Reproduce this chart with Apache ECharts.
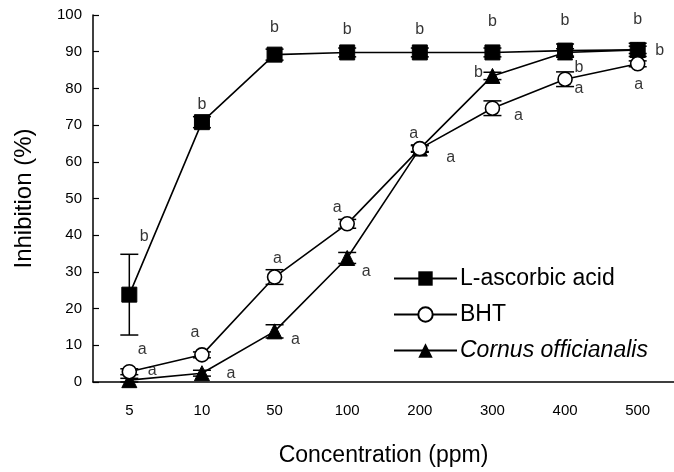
<!DOCTYPE html>
<html><head><meta charset="utf-8">
<script src="https://cdn.jsdelivr.net/npm/echarts@6/dist/echarts.min.js"></script>
<style>html,body{margin:0;padding:0;background:#fff}#c{width:674px;height:472px}</style>
</head><body><div id="c"></div>
<script>
const categories = ['5','10','50','100','200','300','400','500'];
const yTicks = [0,10,20,30,40,50,60,70,80,90,100];
const ascorbic = [23.8, 70.8, 89.2, 89.8, 89.8, 89.8, 90.3, 90.5];
const ascorbicErr = [11, 1.5, 1.5, 1.2, 1.2, 1.2, 1.8, 1.8];
const bht = [2.8, 7.4, 28.6, 43.1, 63.6, 74.6, 82.5, 86.7];
const bhtErr = [0.8, 0.8, 2.0, 1.2, 0.8, 2.0, 2.0, 0.8];
const cornus = [0.5, 2.4, 13.8, 33.8, 63.6, 83.4, 89.8, 90.5];
const cornusErr = [0.5, 0.8, 1.8, 1.5, 1.0, 1.0, 1.0, 1.0];
const ascorbicSig = ['b','b','b','b','b','b','b','b'];
const bhtSig = ['a','a','a','a','a','a','a','a'];
const cornusSig = ['a','a','a','a','a','b','b','b'];
// label offsets (px) relative to the point
const ascorbicOff = [[15,-58],[0,-18],[0,-27],[0,-23],[0,-23],[0,-31],[0,-30],[0,-30]];
const bhtOff = [[13,-22],[-7,-22],[3,-18],[-10,-16],[-6,-15],[26,7],[14,9],[1,21]];
const cornusOff = [[23,-10],[29,0],[21,8],[19,14],[31,9],[-14,-3],[14,15],[22,1]];

const FONT = 'Liberation Sans';
const chart = echarts.init(document.getElementById('c'));
function errSeries(vals, errs){
  return {
    type:'custom', silent:true, z:3,
    data: vals.map((v,i)=>[i, v, errs[i]]),
    renderItem: function(params, api){
      const i = api.value(0), v = api.value(1), e = api.value(2);
      const top = api.coord([i, v+e]), bot = api.coord([i, v-e]);
      const w = 9;
      const st = {stroke:'#000', lineWidth:1.5};
      return {type:'group', children:[
        {type:'line', shape:{x1:top[0],y1:top[1],x2:bot[0],y2:bot[1]}, style:st},
        {type:'line', shape:{x1:top[0]-w,y1:top[1],x2:top[0]+w,y2:top[1]}, style:st},
        {type:'line', shape:{x1:bot[0]-w,y1:bot[1],x2:bot[0]+w,y2:bot[1]}, style:st}
      ]};
    }
  };
}
function sigSeries(vals, letters, offs){
  return {
    type:'scatter', symbolSize:0, silent:true, z:6,
    data: vals.map((v,i)=>({value:[i,v], label:{offset:offs[i]}})),
    label:{show:true, position:'inside', formatter:(p)=>letters[p.dataIndex],
      color:'#000', fontSize:16, fontFamily:FONT}
  };
}
const lineStyle = {color:'#000', width:1.6};
chart.setOption({
  animation:false,
  textStyle:{fontFamily:FONT, color:'#000'},
  grid:{left:93, right:0, top:15, bottom:85, containLabel:false},
  legend:{
    left:393, top:267, padding:0, orient:'vertical', itemWidth:63, itemHeight:18, itemGap:13,
    data:['L-ascorbic acid','BHT','Cornus officianalis'],
    formatter:(n)=> n==='Cornus officianalis' ? '{i|'+n+'}' : n,
    textStyle:{fontSize:23, lineHeight:23, color:'#000', fontFamily:FONT, padding:[0,0,0,-2],
      rich:{i:{fontStyle:'italic', fontSize:23, lineHeight:23, color:'#000', fontFamily:FONT}}}
  },
  xAxis:{
    type:'category', data:categories, boundaryGap:true,
    name:'Concentration (ppm)', nameLocation:'middle', nameGap:62,
    nameTextStyle:{fontSize:23, color:'#000', fontFamily:FONT},
    axisLine:{lineStyle:{color:'#000', width:1.5}},
    axisTick:{inside:true, length:6, lineStyle:{color:'#000', width:1.2}},
    axisLabel:{fontSize:15, color:'#000', margin:21, fontFamily:FONT}
  },
  yAxis:{
    type:'value', min:0, max:100, interval:10,
    name:'Inhibition (%)', nameLocation:'middle', nameGap:57,
    nameTextStyle:{fontSize:24, color:'#000', fontFamily:FONT},
    axisLine:{show:true, lineStyle:{color:'#000', width:1.5}},
    axisTick:{show:true, inside:true, length:6, lineStyle:{color:'#000', width:1.2}},
    axisLabel:{fontSize:15, color:'#000', margin:11, fontFamily:FONT, formatter:(v)=> yTicks.indexOf(v)>=0 ? String(v) : ''},
    splitLine:{show:false}
  },
  series:[
    errSeries(ascorbic, ascorbicErr),
    errSeries(bht, bhtErr),
    errSeries(cornus, cornusErr),
    {name:'L-ascorbic acid', type:'line', data:ascorbic, symbol:'rect', symbolSize:15,
      lineStyle:lineStyle, itemStyle:{color:'#000', borderColor:'#000'}, z:4},
    {name:'BHT', type:'line', data:bht, symbol:'circle', symbolSize:14,
      lineStyle:lineStyle, itemStyle:{color:'#fff', borderColor:'#000', borderWidth:1.6}, z:5},
    {name:'Cornus officianalis', type:'line', data:cornus, symbol:'triangle', symbolSize:15,
      lineStyle:lineStyle, itemStyle:{color:'#000', borderColor:'#000'}, z:4},
    sigSeries(ascorbic, ascorbicSig, ascorbicOff),
    sigSeries(bht, bhtSig, bhtOff),
    sigSeries(cornus, cornusSig, cornusOff)
  ]
});
</script></body></html>
